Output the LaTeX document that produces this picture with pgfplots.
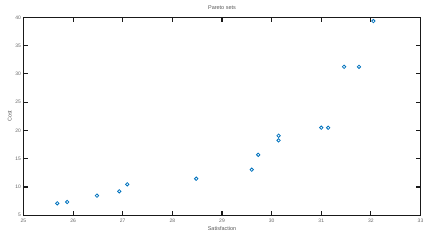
\documentclass[border=0pt]{standalone}
\usepackage{fontspec}
\setmainfont{Liberation Sans}
\usepackage{pgfplots}
\pgfplotsset{compat=1.18}
\definecolor{mblue}{RGB}{0,114,189}
\begin{document}
\begin{tikzpicture}
\begin{axis}[
  name=ax,
  scale only axis,
  width=397bp, height=198bp,
  xmin=25, xmax=33, ymin=5, ymax=40,
  xtick={25,26,...,33}, ytick={5,10,...,40},
  tick align=inside,
  major tick length=4.5bp,
  axis line style={line width=1.1pt, black!90},
  every tick/.style={black!90, line width=1.1pt},
  /pgf/number format/assume math mode=true,
  tick label style={font=\fontsize{5}{6}\selectfont, color=black!60},
  xticklabel style={yshift=-0.5bp},
  yticklabel style={xshift=1bp},
  xlabel={Satisfaction}, ylabel={Cost},
  label style={font=\fontsize{5.5}{6}\selectfont, color=black!65},
  title={Pareto sets},
  title style={font=\fontsize{5.5}{6}\selectfont, color=black!65, at={(0.5,1)}, anchor=south, inner sep=1.5bp},
  xlabel style={yshift=3bp},
  ylabel style={yshift=-3bp},
]
\addplot[only marks, mark=o, mark size=1.7bp, mblue, line width=0.8pt] coordinates {
(25.68,7.12) (25.88,7.35) (26.48,8.47) (26.93,9.24) (27.09,10.48) (28.48,11.47)
(29.60,13.06) (29.73,15.7) (30.14,19.07) (30.14,18.25) (31.0,20.48) (31.14,20.48)
(31.46,31.25) (31.76,31.25) (32.05,39.33)
};
\end{axis}
\path (ax.south west) ++(-23.5bp,-24.7bp) coordinate (bl);
\path (ax.north east) ++(14.5bp,17.3bp) coordinate (tr);
\useasboundingbox (bl) rectangle (tr);
\end{tikzpicture}
\end{document}
